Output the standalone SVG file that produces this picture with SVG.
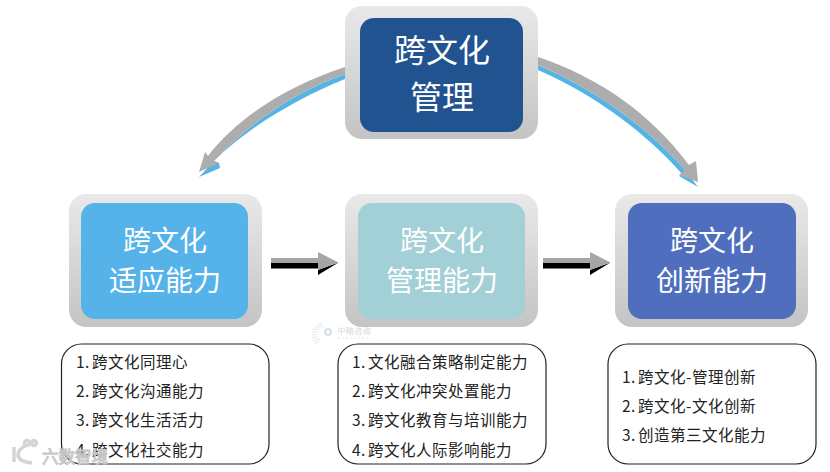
<svg xmlns="http://www.w3.org/2000/svg" width="830" height="472" viewBox="0 0 830 472">
<style>
text{font-family:"Noto Sans CJK SC","Noto Sans",sans-serif}
.t{fill:#fff;font-size:28px;text-anchor:middle}
.h{font-size:32px}
.l{fill:#222;font-size:15.5px;letter-spacing:.5px}
.b{fill:#fff;stroke:#222;stroke-width:1.2}
.o{fill:url(#g)}
.blue{fill:#55b3e6}
.gray{fill:#adadad}
.wm{fill:none;stroke:#d4d4d4;stroke-width:3.5}
</style>
<defs>
<linearGradient id="g" x1="0" y1="0" x2="0" y2="1"><stop offset="0" stop-color="#e9e9e9"/><stop offset="1" stop-color="#c4c4c4"/></linearGradient>
<g id="straight"><path d="M0 263H47V270L67.500 262.500L47 275V268.500H0Z" fill="#000"/><path d="M0 258H47V252L67.500 262.500L47 270V263H0Z" fill="#a6a6a6"/></g>
</defs>
<rect width="830" height="472" fill="#fff"/>
<g id="connectors">
<path class="blue" d="M345 74C295 92 250 122 214 161L219 163L220 168L199 177L206 169.500C242 130 296 99 345 79Z"/>
<path class="gray" d="M345 67C290 85 240 115 208 156L205 152L199 172L219 163L214 161C250 122 295 92 345 74Z"/>
<path class="blue" d="M538 65C600 92 650 130 685 170L698 187L679 176L682 174C647 134 597 96 538 70Z"/>
<path class="gray" d="M538 57C600 78 650 113 689 165L696 161L698 182L679 175L685 170C650 130 600 92 538 65Z"/>
<use href="#straight" x="271"/>
<use href="#straight" x="543"/>
</g>
<g id="top"><rect class="o" x="345" y="6" width="193" height="133" rx="17"/><rect x="360" y="18" width="163" height="114" rx="14" fill="#215391"/><text class="t h" x="442" y="62">跨文化</text><text class="t h" x="442" y="109">管理</text></g>
<g id="adapt"><rect class="o" x="69" y="194" width="193" height="133" rx="17"/><rect x="81" y="203" width="167" height="116" rx="14" fill="#55b3ea"/><text class="t" x="165" y="251">跨文化</text><text class="t" x="165" y="291">适应能力</text></g>
<g id="manage"><rect class="o" x="345" y="194" width="193" height="133" rx="17"/><rect x="358" y="203" width="167" height="116" rx="14" fill="#a2d0d6"/><text class="t" x="442" y="251">跨文化</text><text class="t" x="442" y="291">管理能力</text></g>
<g id="innovate"><rect class="o" x="615" y="194" width="193" height="133" rx="17"/><rect x="628" y="203" width="168" height="116" rx="14" fill="#4f6fbe"/><text class="t" x="712" y="251">跨文化</text><text class="t" x="712" y="291">创新能力</text></g>
<g id="list1"><rect class="b" x="61.500" y="344" width="207.500" height="120" rx="20"/><text class="l" x="76" y="368">1.<tspan x="92">跨文化同理心</tspan></text><text class="l" x="76" y="397">2.<tspan x="92">跨文化沟通能力</tspan></text><text class="l" x="76" y="426">3.<tspan x="92">跨文化生活活力</tspan></text><text class="l" x="76" y="456">4.<tspan x="92">跨文化社交能力</tspan></text></g>
<g id="list2"><rect class="b" x="338" y="344" width="208" height="120" rx="20"/><text class="l" x="352" y="368">1.<tspan x="368">文化融合策略制定能力</tspan></text><text class="l" x="352" y="397">2.<tspan x="368">跨文化冲突处置能力</tspan></text><text class="l" x="352" y="426">3.<tspan x="368">跨文化教育与培训能力</tspan></text><text class="l" x="352" y="456">4.<tspan x="368">跨文化人际影响能力</tspan></text></g>
<g id="list3"><rect class="b" x="608" y="344" width="208" height="120" rx="20"/><text class="l" x="622" y="383">1.<tspan x="638">跨文化-管理创新</tspan></text><text class="l" x="622" y="412">2.<tspan x="638">跨文化-文化创新</tspan></text><text class="l" x="622" y="441">3.<tspan x="638">创造第三文化能力</tspan></text></g>
<g id="watermark-center" opacity=".75">
<circle cx="328" cy="332" r="3" fill="none" stroke="#b9cbd8" stroke-width="1.5"/>
<path d="M322 325A10 10 0 0 0 318 342" fill="none" stroke="#d5e2ea" stroke-width="6" stroke-dasharray="1 1.500"/>
<text x="337" y="334" style="font-size:8.500px;fill:#c4d0da">中略咨询</text>
<path d="M338 338H371" stroke="#dbe3e9" stroke-width="1.500" stroke-dasharray="1.500 2.500"/>
</g>
<g id="watermark-corner">
<path class="wm" d="M14 447V462M27 445C20 448 18 452 18 455C18 459 23 462 32 463"/>
<circle class="wm" cx="27" cy="443" r="2.500" stroke-width="1.500"/>
<circle class="wm" cx="34" cy="443" r="2.500" stroke-width="1.500"/>
<text x="42" y="463" style="font-size:16.500px;fill:#fff;fill-opacity:.65;stroke:#c4c4c4;stroke-width:1">六数智境</text>
</g>
</svg>
